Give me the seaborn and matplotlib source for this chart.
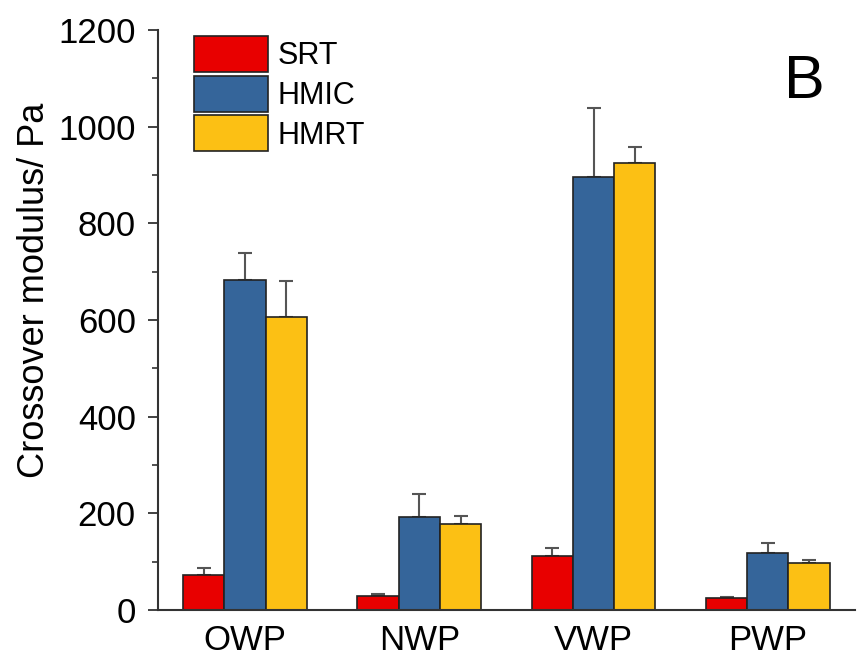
import numpy as np
import pandas as pd
import matplotlib
matplotlib.use('Agg')
import matplotlib.pyplot as plt
import seaborn as sns
from matplotlib.ticker import MultipleLocator

categories = ['OWP', 'NWP', 'VWP', 'PWP']
series = ['SRT', 'HMIC', 'HMRT']
srt = [72, 29, 112, 25]
hmic = [683, 192, 896, 118]
hmrt = [606, 178, 925, 97]
srt_err = [15, 4, 16, 3]
hmic_err = [56, 48, 142, 21]
hmrt_err = [75, 16, 33, 6]
colors = ['#E80000', '#35659A', '#FCC014']

sns.set_theme(style='ticks')
plt.rcParams['font.family'] = ['Liberation Sans', 'DejaVu Sans']
plt.rcParams['text.color'] = 'black'
plt.rcParams['axes.labelcolor'] = 'black'
plt.rcParams['xtick.color'] = 'black'
plt.rcParams['ytick.color'] = 'black'

rows = []
for s, vals in zip(series, [srt, hmic, hmrt]):
    for c, v in zip(categories, vals):
        rows.append({'cat': c, 'val': v, 'series': s})
df = pd.DataFrame(rows)

fig = plt.figure(figsize=(8.68, 6.66), dpi=100)
ax = fig.add_axes([0.182, 0.084, 0.803, 0.871])

sns.barplot(data=df, x='cat', y='val', hue='series', order=categories,
            hue_order=series, palette=colors, saturation=1, width=0.71,
            edgecolor='#222222', linewidth=1.2, errorbar=None, ax=ax)

for cont, errs in zip(ax.containers, [srt_err, hmic_err, hmrt_err]):
    xs = [p.get_x() + p.get_width() / 2 for p in cont]
    ys = [p.get_height() for p in cont]
    ax.errorbar(xs, ys, yerr=[np.zeros(len(errs)), errs], fmt='none',
                ecolor='#555555', elinewidth=1.5, capsize=5, capthick=1.5,
                zorder=0.5)

ax.set_xlim(-0.5, 3.5)
ax.set_ylim(0, 1200)
ax.yaxis.set_major_locator(MultipleLocator(200))
ax.yaxis.set_minor_locator(MultipleLocator(100))
ax.tick_params(axis='y', which='major', length=7, width=1.3, labelsize=25,
               pad=9, color='#333333', labelcolor='black')
ax.tick_params(axis='y', which='minor', length=4, width=1.2, color='#333333')
ax.tick_params(axis='x', length=0, labelsize=25, pad=10, labelcolor='black')
ax.set_xlabel('')
ax.set_ylabel('Crossover modulus/ Pa', fontsize=26, color='black')
ax.yaxis.set_label_coords(-0.152, 0.552)

sns.despine(ax=ax)
for sp in ['left', 'bottom']:
    ax.spines[sp].set_linewidth(1.5)
    ax.spines[sp].set_color('#333333')

leg = ax.legend(loc='upper left', bbox_to_anchor=(0.052, 0.990), frameon=False,
                fontsize=22, handlelength=2.42, handleheight=1.43,
                labelspacing=0.13, handletextpad=0.3, borderpad=0,
                borderaxespad=0)
for t in leg.get_texts():
    t.set_color('black')

ax.text(0.928, 0.909, 'B', transform=ax.transAxes, fontsize=44,
        ha='center', va='center', color='black')

fig.savefig('out.png', dpi=100)
